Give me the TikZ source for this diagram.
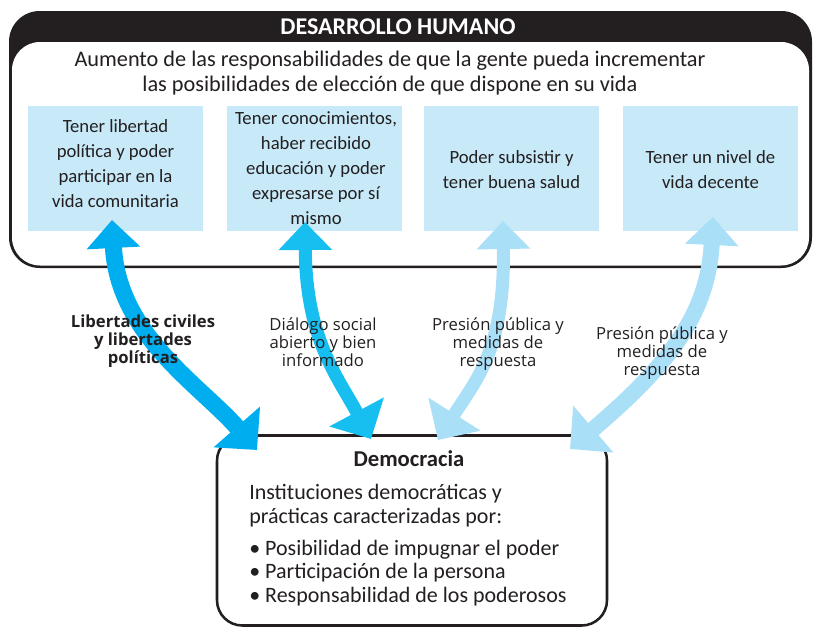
\documentclass[tikz,border=0pt]{standalone}
\usepackage{fontspec}
\setmainfont{Carlito}
\newfontfamily\labelfont{Open Sans}
\usetikzlibrary{arrows.meta}
\pgfdeclarelayer{bg}
\pgfdeclarelayer{arr}
\pgfsetlayers{bg,arr,main}
\definecolor{txt}{HTML}{231F20}
\definecolor{frame}{HTML}{231F20}
\definecolor{boxblue}{HTML}{C7E9F8}
\definecolor{arrA}{HTML}{00AEEF}
\definecolor{arrB}{HTML}{17BFF0}
\definecolor{arrC}{HTML}{AADFF8}
\tikzset{
  bluebox/.style={fill=boxblue, minimum width=131.25pt, minimum height=93.75pt, inner sep=0pt},
  boxtext/.style={text=txt, align=center, font=\fontsize{14}{18.75}\selectfont},
  lbl/.style={text=txt, align=center, font=\labelfont\fontsize{12.5}{13.5}\selectfont},
  lblbold/.style={lbl, font=\labelfont\bfseries\fontsize{12.5}{13.5}\selectfont},
  twoway/.style={arrows={Triangle[width=39pt,length=21pt]-Triangle[width=45pt,length=23pt]}},
}
\begin{document}
\begin{tikzpicture}[x=0.75pt,y=-0.75pt]
\useasboundingbox (0,0) rectangle (816,628);
\begin{pgfonlayer}{bg}
  % top frame
  \fill[frame, rounded corners=23pt] (9,11) rectangle (812,268);
  \fill[white, rounded corners=21pt] (12,42) rectangle (809,265.5);
  % blue boxes
  \node[bluebox] (b1) at (115.5,168.5) {};
  \node[bluebox] (b2) at (314.5,168.5) {};
  \node[bluebox] (b3) at (511.5,168.5) {};
  \node[bluebox] (b4) at (710.5,168.5) {};
  % democracy box
  \node[draw=frame, fill=white, line width=1.9pt, rounded corners=19pt,
        minimum width=292.5pt, minimum height=142.5pt, inner sep=0pt] (dem) at (412,530.5) {};
\end{pgfonlayer}

% arrow end points
\coordinate (a1t) at (112,220);
\coordinate (a1b) at (257,450);
\coordinate (a2t) at (305,222);
\coordinate (a2b) at (371,439);
\coordinate (a3t) at (503,221);
\coordinate (a3b) at (438,440);
\coordinate (a4t) at (713,217);
\coordinate (a4b) at (570,449);

\begin{pgfonlayer}{arr}
  \draw[twoway, arrA, line width=12.75pt] (a1t) .. controls (118,335) and (200,385) .. (a1b);
  \draw[twoway, arrB, line width=9.75pt] (a2t) .. controls (306,340) and (338,377) .. (a2b);
  \draw[twoway, arrC, line width=9.75pt] (a3t) .. controls (505,350) and (476,380) .. (a3b);
  \draw[twoway, arrC, line width=12pt] (a4t) .. controls (708,320) and (660,372) .. (a4b);
\end{pgfonlayer}

% texts
\node[text=white, font=\bfseries\fontsize{18}{20}\selectfont] (title) at (398,27) {DESARROLLO HUMANO};
\node[text=txt, align=center, font=\fontsize{16.7}{18.6}\selectfont] (intro) at (390,73)
  {Aumento de las responsabilidades de que la gente pueda incrementar\\las posibilidades de elección de que dispone en su vida};

\node[boxtext] (t1) at (115.5,163.5) {Tener libertad\\política y poder\\participar en la\\vida comunitaria};
\node[boxtext] (t2) at (316,168) {Tener conocimientos,\\haber recibido\\educación y poder\\expresarse por sí\\mismo};
\node[boxtext] (t3) at (511.5,169.5) {Poder subsistir y\\tener buena salud};
\node[boxtext] (t4) at (710.5,169.5) {Tener un nivel de\\vida decente};

\node[lblbold] (l1) at (143,341) {Libertades civiles\\y libertades\\políticas};
\node[lbl] (l2) at (323,342) {Diálogo social\\abierto y bien\\informado};
\node[lbl] (l3) at (498,344) {Presión pública y\\medidas de\\respuesta};
\node[lbl] (l4) at (662,353) {Presión pública y\\medidas de\\respuesta};

\node[text=txt, font=\bfseries\fontsize{17}{20}\selectfont] (demtitle) at (409,459) {Democracia};
\node[text=txt, anchor=west, align=left, font=\fontsize{16.5}{17.6}\selectfont, inner sep=0pt] (demtext) at (249,545)
  {Instituciones democráticas y\\prácticas caracterizadas por:\\[6.4pt]
   • Posibilidad de impugnar el poder\\• Participación de la persona\\• Responsabilidad de los poderosos};
\end{tikzpicture}
\end{document}
